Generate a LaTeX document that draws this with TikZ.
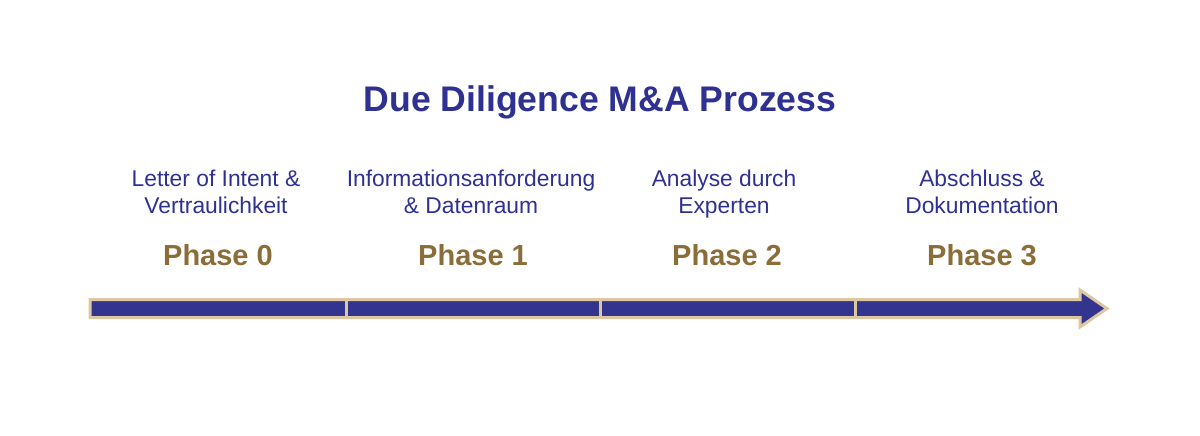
\documentclass[tikz,border=0pt]{standalone}
\usepackage{fontspec}
\setmainfont{Liberation Sans}
\definecolor{navy}{HTML}{2E3192}
\definecolor{arrowblue}{HTML}{33348E}
\definecolor{beige}{HTML}{DCC7A2}
\definecolor{gold}{HTML}{8A6D38}
\begin{document}
\begin{tikzpicture}[x=1pt,y=-1pt,
  titletext/.style={text=navy,font=\fontsize{35.6}{40}\selectfont\bfseries,inner sep=0pt},
  desctext/.style={text=navy,font=\fontsize{22.8}{27}\selectfont,align=center,inner sep=0pt},
  phasetext/.style={text=gold,font=\fontsize{29}{34}\selectfont\bfseries,inner sep=0pt},
  divider/.style={draw=beige,line width=3pt}]
\useasboundingbox (0,0) rectangle (1200,436);
\node[titletext] (title) at (600,102) {Due Diligence M\&A Prozess};
\node[desctext] (d0) at (216,195) {Letter of Intent \&\strut\\Vertraulichkeit\strut};
\node[desctext] (d1) at (471,195) {Informationsanforderung\strut\\\& Datenraum\strut};
\node[desctext] (d2) at (724,195) {Analyse durch\strut\\Experten\strut};
\node[desctext] (d3) at (982,195) {Abschluss \&\strut\\Dokumentation\strut};
\node[phasetext] (p0) at (218,255) {Phase 0};
\node[phasetext] (p1) at (473,255) {Phase 1};
\node[phasetext] (p2) at (727,255) {Phase 2};
\node[phasetext] (p3) at (982,255) {Phase 3};
\draw[fill=arrowblue,draw=beige,line width=3pt,line join=miter]
  (90,299.5) -- (1080,299.5) -- (1080,290) -- (1107,308.5) -- (1080,327) -- (1080,317.5) -- (90,317.5) -- cycle;
\coordinate (s1t) at (346,299.5); \coordinate (s1b) at (346,317.5);
\coordinate (s2t) at (600,299.5); \coordinate (s2b) at (600,317.5);
\coordinate (s3t) at (855,299.5); \coordinate (s3b) at (855,317.5);
\draw[divider] (s1t) -- (s1b);
\draw[divider] (s2t) -- (s2b);
\draw[divider] (s3t) -- (s3b);
\end{tikzpicture}
\end{document}
